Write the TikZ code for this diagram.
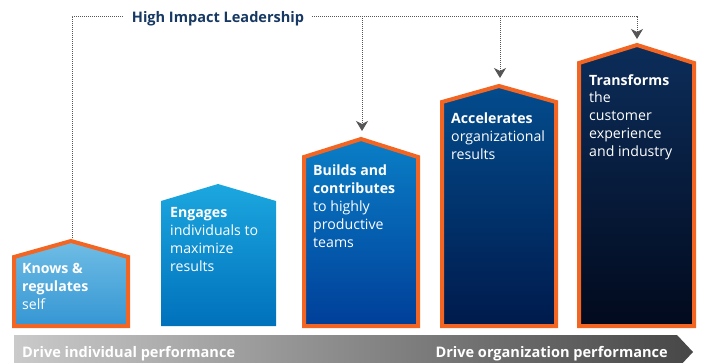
\documentclass[tikz,border=0pt]{standalone}
\usepackage{fontspec}
\setmainfont{Open Sans}
\usetikzlibrary{arrows.meta,positioning}

\definecolor{stageorange}{HTML}{F26522}
\definecolor{leadgray}{HTML}{555555}
\definecolor{titlenavy}{HTML}{163862}
\definecolor{knowtop}{HTML}{6FBDE5}
\definecolor{knowbot}{HTML}{3596D3}
\definecolor{engtop}{HTML}{1CA7DF}
\definecolor{engbot}{HTML}{0071BC}
\definecolor{buildtop}{HTML}{0A7EC6}
\definecolor{buildbot}{HTML}{003F99}
\definecolor{acctop}{HTML}{034C8D}
\definecolor{accbot}{HTML}{001A4C}
\definecolor{transtop}{HTML}{0C2D5A}
\definecolor{transbot}{HTML}{020A1D}
\definecolor{barlight}{HTML}{CACACA}
\definecolor{bardark}{HTML}{474747}

\tikzset{
  stage/.style={draw=stageorange, line width=4bp, miter limit=20},
  stagetext/.style={anchor=north west, inner sep=0pt, align=left, text=white,
    font=\fontsize{14.2}{18}\selectfont},
  leadline/.style={draw=leadgray, line width=1bp, dash pattern=on 1bp off 1bp},
  leadarrow/.style={leadline, -{Stealth[length=10bp,width=12bp,inset=3bp]}},
  bartext/.style={inner sep=0pt, text=white, font=\fontsize{14.6}{16}\selectfont\bfseries}
}

\begin{document}
\begin{tikzpicture}[x=1bp,y=-1bp]
  \useasboundingbox (0,0) rectangle (702,362);

  % performance bar
  \shade[left color=barlight, right color=bardark]
    (14,335) -- (677,335) -- (693,352) -- (677,369) -- (14,369) -- cycle;
  \node[bartext, anchor=base west] (indiv) at (22,357) {Drive individual performance};
  \node[bartext, anchor=base east] (organ) at (668,357) {Drive organization performance};

  % stages
  \draw[stage, top color=knowtop, bottom color=knowbot]
    (14,326) -- (14,257) -- (71,241) -- (128,257) -- (128,326) -- cycle;
  \shade[top color=engtop, bottom color=engbot]
    (161,326) -- (161,201) -- (218,184) -- (276,201) -- (276,326) -- cycle;
  \draw[stage, top color=buildtop, bottom color=buildbot]
    (304,326) -- (304,157) -- (361,139) -- (418,157) -- (418,326) -- cycle;
  \draw[stage, top color=acctop, bottom color=accbot]
    (442,326) -- (442,102) -- (499,86) -- (556,102) -- (556,326) -- cycle;
  \draw[stage, top color=transtop, bottom color=transbot]
    (579,326) -- (579,63) -- (637,45) -- (694,63) -- (694,326) -- cycle;

  \node[stagetext] (knows) at (22,263) {\textbf{Knows \&}\\\textbf{regulates}\\self};
  \node[stagetext] (engages) at (170,207) {\textbf{Engages}\\individuals to\\maximize\\results};
  \node[stagetext] (builds) at (313,165) {\textbf{Builds and}\\\textbf{contributes}\\to highly\\productive\\teams};
  \node[stagetext] (accel) at (451,113) {\textbf{Accelerates}\\organizational\\results};
  \node[stagetext] (transf) at (589,74) {\textbf{Transforms}\\the\\customer\\experience\\and industry};

  % leadership lines
  \node[text=titlenavy, font=\fontsize{14.6}{18}\selectfont\bfseries, inner xsep=8bp,
    inner ysep=0pt, text height=13bp, text depth=1bp] (hil) at (218,16) {High Impact Leadership};
  \coordinate (peak1) at (72,238);
  \coordinate (tip3) at (362,131);
  \coordinate (tip4) at (500,78);
  \coordinate (tip5) at (637,39);

  \draw[leadline] (peak1) |- (hil.west);
  \draw[leadarrow] (hil.east) -| (tip5);
  \draw[leadarrow] (tip3 |- hil.east) -- (tip3);
  \draw[leadarrow] (tip4 |- hil.east) -- (tip4);
\end{tikzpicture}
\end{document}
